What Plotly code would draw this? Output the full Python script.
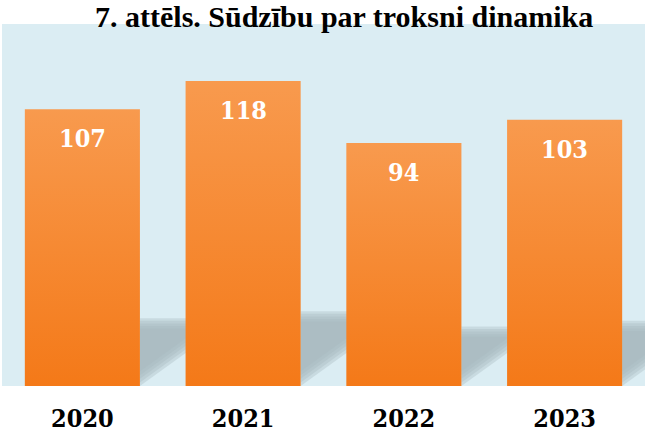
import plotly.graph_objects as go

# ---- data ----
years = ["2020", "2021", "2022", "2023"]
complaints = [107, 118, 94, 103]
title_text = "7. attēls. Sūdzību par troksni dinamika"

# ---- style ----
BAR_W = 0.716
BG = "rgb(219,237,243)"
ORANGE_TOP = "rgb(248,154,78)"
ORANGE_BOT = "rgb(244,121,24)"
SHADOW = "rgba(166,182,188,0.35)"
TITLE_FONT = "Liberation Serif, serif"
NUM_FONT = "DejaVu Serif Condensed, DejaVu Serif, serif"

x_idx = list(range(len(years)))

fig = go.Figure()

# bars as filled polygons with vertical gradient (per bar)
for i, v in zip(x_idx, complaints):
    x0, x1 = i - BAR_W / 2, i + BAR_W / 2
    fig.add_trace(go.Scatter(
        x=[x0, x1, x1, x0, x0], y=[0, 0, v, v, 0],
        mode="lines", line=dict(width=0), fill="toself",
        fillgradient=dict(type="vertical", start=0, stop=v,
                          colorscale=[[0, ORANGE_BOT], [1, ORANGE_TOP]]),
        hoverinfo="skip", showlegend=False,
    ))

# soft floor shadows cast to the right of each bar
SLOPE = 44.8   # data-y units per category unit
shapes = []
for i, v in zip(x_idx, complaints):
    xr = i + BAR_W / 2
    H = 0.245 * v
    for j in range(5):
        y0 = j * 1.4
        top = H - j * 1.0
        xend = xr + (top - y0) / SLOPE
        shapes.append(dict(
            type="path", xref="x", yref="y", layer="below",
            path=f"M {xr},{y0} L {xr},{top} L {xend},{top} Z",
            fillcolor=SHADOW, line=dict(width=0),
        ))

annotations = [
    dict(x=i, y=v, xref="x", yref="y", text=f"<b>{v}</b>", showarrow=False,
         yanchor="top", yshift=-13,
         font=dict(family=NUM_FONT, size=25, color="white"))
    for i, v in zip(x_idx, complaints)
]
annotations.append(dict(
    text=f"<b>{title_text}</b>", xref="paper", yref="paper",
    x=0.532, y=1.0, yshift=8, xanchor="center", yanchor="middle", showarrow=False,
    font=dict(family=TITLE_FONT, size=30, color="black"),
))

fig.update_layout(
    width=647, height=437,
    margin=dict(l=2, r=2, t=24, b=51),
    paper_bgcolor="white", plot_bgcolor=BG,
    shapes=shapes, annotations=annotations,
    showlegend=False,
)
fig.update_xaxes(
    range=[-0.5, 3.5], tickvals=x_idx, ticktext=[f"<b>{y}</b>" for y in years],
    tickfont=dict(family=NUM_FONT, size=25, color="black"),
    showgrid=False, zeroline=False, showline=False, ticks="",
    ticklabelstandoff=15, automargin=False, fixedrange=True,
)
fig.update_yaxes(
    range=[0, 140], showgrid=False, zeroline=False, showline=False,
    showticklabels=False, ticks="", automargin=False, fixedrange=True,
)

fig.write_html("out.html", config={"displayModeBar": False},
               post_script="document.body.style.margin='0px';")
